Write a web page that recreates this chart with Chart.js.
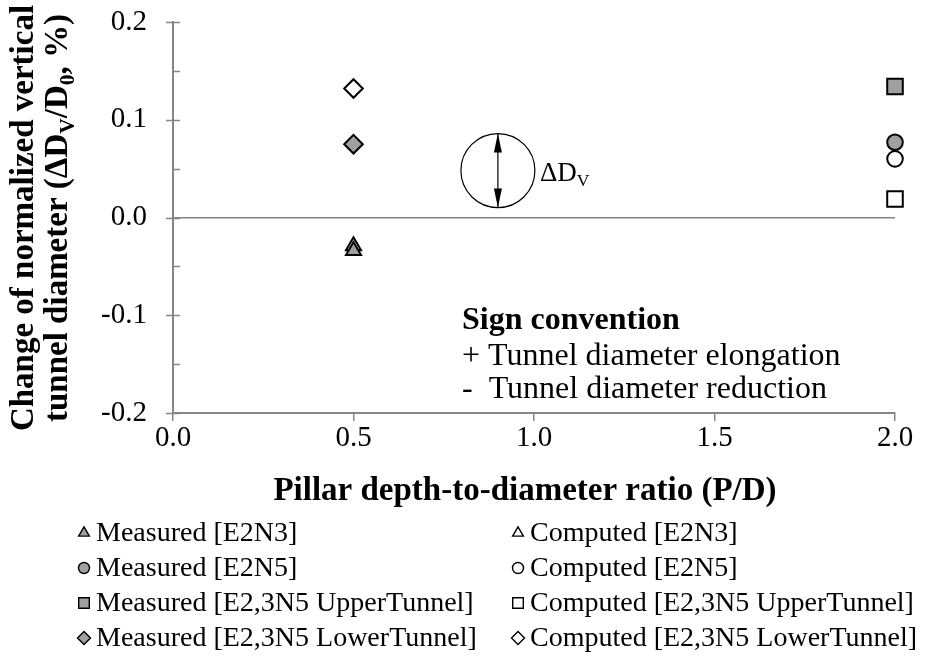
<!DOCTYPE html>
<html>
<head>
<meta charset="utf-8">
<script src="https://cdn.jsdelivr.net/npm/chart.js@4"></script>
<style>
  html, body { margin: 0; padding: 0; background: #fff; }
  #wrap { width: 926px; height: 657px; }
</style>
</head>
<body>
<div id="wrap"><canvas id="chart" width="926" height="657"></canvas></div>
<script>
// pillar depth-to-diameter ratio for each test
const pdE2N3 = 0.5;
const pdE2N5 = 2.0;
const pdUpper = 2.0;
const pdLower = 0.5;

// change of normalized vertical diameter (%)
const measuredE2N3 = [-0.034];
const computedE2N3 = [-0.029];
const measuredE2N5 = [0.077];
const computedE2N5 = [0.060];
const measuredUpper = [0.134];
const computedUpper = [0.019];
const measuredLower = [0.075];
const computedLower = [0.132];

const xTicks = [0, 0.5, 1.0, 1.5, 2.0];
const yTicks = [-0.2, -0.1, 0.0, 0.1, 0.2];
const yMinorTicks = [-0.15, -0.05, 0.05, 0.15];

const serif = "'Liberation Serif', 'Times New Roman', serif";
const axisGray = "#868686";
const fillGray = "#a0a0a0";
const noFill = "rgba(255,255,255,0)";

function pts(x, ys) { return ys.map(y => ({ x, y })); }

const sizes = { triangle: 8.7, circle: 7.8, rect: 11, rectRot: 9.3 };
const legendSizes = { triangle: 6.2, circle: 5.5, rect: 7.5, rectRot: 6.5 };

function ds(label, x, ys, style, filled, col) {
  return {
    label,
    data: pts(x, ys),
    pointStyle: style,
    pointRadius: sizes[style],
    pointBackgroundColor: filled ? fillGray : noFill,
    pointBorderColor: "#000",
    pointBorderWidth: 2,
    showLine: false,
    clip: false,
    legendCol: col
  };
}

const datasets = [
  ds("Measured [E2N3]", pdE2N3, measuredE2N3, "triangle", true, 0),
  ds("Computed [E2N3]", pdE2N3, computedE2N3, "triangle", false, 1),
  ds("Measured [E2N5]", pdE2N5, measuredE2N5, "circle", true, 0),
  ds("Computed [E2N5]", pdE2N5, computedE2N5, "circle", false, 1),
  ds("Measured [E2,3N5 UpperTunnel]", pdUpper, measuredUpper, "rect", true, 0),
  ds("Computed [E2,3N5 UpperTunnel]", pdUpper, computedUpper, "rect", false, 1),
  ds("Measured [E2,3N5 LowerTunnel]", pdLower, measuredLower, "rectRot", true, 0),
  ds("Computed [E2,3N5 LowerTunnel]", pdLower, computedLower, "rectRot", false, 1)
];

// text with subscripts: parts = [[text, isSub], ...]
function drawRich(ctx, parts, x, y, size, bold, align) {
  const f = s => (bold ? "bold " : "") + s + "px " + serif;
  let total = 0;
  parts.forEach(([t, sub]) => { ctx.font = f(sub ? size * 0.65 : size); total += ctx.measureText(t).width; });
  let cx = align === "center" ? x - total / 2 : x;
  ctx.textAlign = "left";
  ctx.textBaseline = "alphabetic";
  parts.forEach(([t, sub]) => {
    ctx.font = f(sub ? size * 0.65 : size);
    ctx.fillText(t, cx, sub ? y + size * 0.2 : y);
    cx += ctx.measureText(t).width;
  });
}

const extras = {
  id: "extras",
  afterDraw(chart) {
    const { ctx, chartArea, scales } = chart;
    const sx = scales.x, sy = scales.y;
    ctx.save();
    ctx.fillStyle = "#000";

    // tick marks on the value axis: major ones cross, minor ones inside
    ctx.strokeStyle = axisGray;
    ctx.lineWidth = 1.5;
    const tick = (v, from, to) => {
      const py = Math.round(sy.getPixelForValue(v)) + 0.5;
      ctx.beginPath();
      ctx.moveTo(chartArea.left + from, py);
      ctx.lineTo(chartArea.left + to, py);
      ctx.stroke();
    };
    yTicks.forEach(v => tick(v, -7, 7));
    yMinorTicks.forEach(v => tick(v, 0, 7));

    // axis titles
    drawRich(ctx, [["Pillar depth-to-diameter ratio (P/D)", false]], 525, 500, 33, true, "center");
    ctx.save();
    ctx.translate(33, 218);
    ctx.rotate(-Math.PI / 2);
    drawRich(ctx, [["Change of normalized vertical", false]], 0, 0, 33, true, "center");
    drawRich(ctx, [["tunnel diameter (\u0394D", false], ["V", true], ["/D", false], ["0", true], [", %)", false]], 0, 34, 33, true, "center");
    ctx.restore();

    // tunnel sketch
    const cx = sx.getPixelForValue(0.9), cy = sy.getPixelForValue(0.048);
    const r = 37;
    ctx.strokeStyle = "#000";
    ctx.lineWidth = 1.2;
    ctx.beginPath();
    ctx.arc(cx, cy, r, 0, Math.PI * 2);
    ctx.stroke();
    ctx.beginPath();
    ctx.moveTo(cx, cy - r);
    ctx.lineTo(cx, cy + r);
    ctx.stroke();
    [-1, 1].forEach(d => {
      ctx.beginPath();
      ctx.moveTo(cx, cy + d * r);
      ctx.lineTo(cx - 4, cy + d * (r - 19));
      ctx.lineTo(cx + 4, cy + d * (r - 19));
      ctx.closePath();
      ctx.fill();
    });
    drawRich(ctx, [["\u0394D", false], ["V", true]], cx + r + 5, cy + 10, 27, false, "left");

    // sign convention note
    const nx = 462;
    drawRich(ctx, [["Sign convention", false]], nx, 329, 32, true, "left");
    drawRich(ctx, [["+ Tunnel diameter elongation", false]], nx, 365, 32, false, "left");
    drawRich(ctx, [["-  Tunnel diameter reduction", false]], nx, 398, 32, false, "left");

    // legend in two columns
    const colX = [84, 518];
    const rowY = [533, 568, 603, 638];
    const rows = [0, 0];
    chart.data.datasets.forEach(d => {
      const c = d.legendCol;
      const x = colX[c], y = rowY[rows[c]++];
      ctx.fillStyle = d.pointBackgroundColor;
      ctx.strokeStyle = "#000";
      ctx.lineWidth = 1.4;
      Chart.helpers.drawPoint(ctx, { pointStyle: d.pointStyle, radius: legendSizes[d.pointStyle], borderWidth: 1.4 }, x, y);
      ctx.fillStyle = "#000";
      ctx.font = "28px " + serif;
      ctx.textAlign = "left";
      ctx.textBaseline = "middle";
      ctx.fillText(d.label, x + 12, y + 1);
    });
    ctx.restore();
  }
};

new Chart(document.getElementById("chart"), {
  type: "scatter",
  data: { datasets },
  options: {
    responsive: false,
    animation: false,
    layout: { padding: { left: 0, right: 31, top: 22, bottom: 0 } },
    plugins: { legend: { display: false }, tooltip: { enabled: false } },
    scales: {
      x: {
        type: "linear",
        min: 0,
        max: 2,
        afterBuildTicks: s => { s.ticks = xTicks.map(v => ({ value: v })); },
        afterFit: s => { s.height = 244; },
        ticks: { font: { family: serif, size: 29, lineHeight: 1 }, color: "#000", padding: 3, maxRotation: 0,
          callback: v => v.toFixed(1) },
        grid: { drawOnChartArea: false, color: axisGray, tickLength: 8, lineWidth: 1.5 },
        border: { color: axisGray, width: 2 }
      },
      y: {
        type: "linear",
        min: -0.2,
        max: 0.2,
        afterBuildTicks: s => { s.ticks = yTicks.map(v => ({ value: v })); },
        afterFit: s => { s.width = 173; },
        ticks: { font: { family: serif, size: 29, lineHeight: 1 }, color: "#000", padding: 4,
          callback: v => (Math.abs(v) < 1e-9 ? 0 : v).toFixed(1) },
        grid: {
          color: c => (c.tick && Math.abs(c.tick.value) < 1e-9 ? axisGray : "rgba(0,0,0,0)"),
          tickColor: "rgba(0,0,0,0)",
          tickLength: 22,
          lineWidth: 1.5
        },
        border: { color: axisGray, width: 2 }
      }
    }
  },
  plugins: [extras]
});
</script>
</body>
</html>
